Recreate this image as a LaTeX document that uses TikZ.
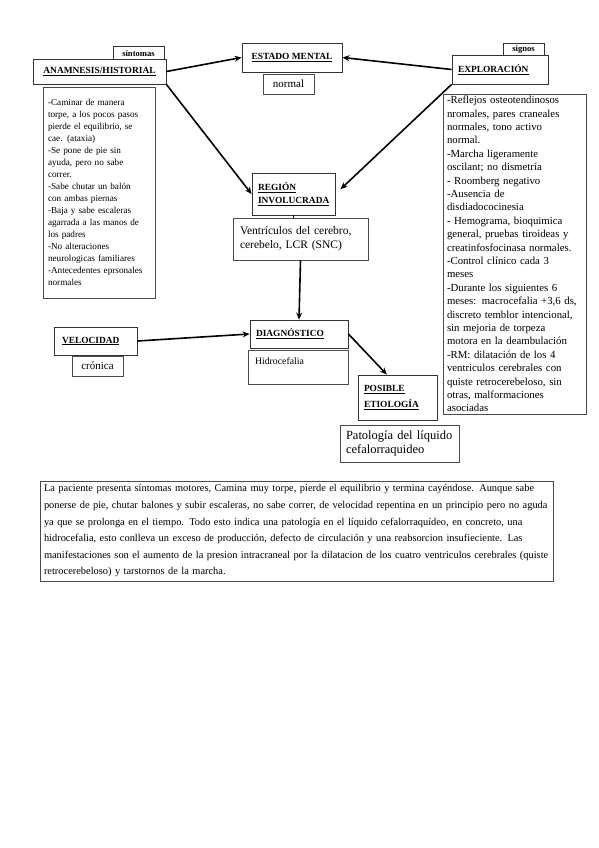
\documentclass[tikz,border=0pt]{standalone}
\usepackage{fontspec}
\setmainfont{Liberation Serif}
\usepackage{tikz}
\usetikzlibrary{arrows.meta,calc}

\begin{document}
\begin{tikzpicture}[
  x=1pt, y=-1pt,
  % heading boxes: bold, underlined title in a framed box
  head/.style={draw=black!80,fill=white,line width=0.9pt,inner sep=2pt,
               font=\fontsize{9.4}{11}\selectfont\bfseries,align=left},
  % small tag sitting behind a heading
  tag/.style={draw=black!80,fill=white,line width=0.8pt,inner sep=1pt,
              font=\fontsize{8.6}{9}\selectfont\bfseries},
  % plain text boxes under the headings
  txt/.style={draw=black!70,fill=white,line width=0.7pt,inner sep=6pt,
              font=\fontsize{9.8}{14}\selectfont,align=left},
  link/.style={line width=1.6pt,-{Stealth[length=7pt,width=6pt]}},
]
\useasboundingbox (0,0) rectangle (599,848);

%--- anamnesis, on the left ----------------------------------------------------
\node[tag,minimum width=51pt,minimum height=15pt] (sint) at (138.5,54) {síntomas};
\node[head,minimum width=133pt,minimum height=25pt] (anam) at (99.5,71.5)
  {\underline{ANAMNESIS/HISTORIAL}};
\node[txt,font=\fontsize{9.2}{12}\selectfont,text width=102pt,minimum height=211pt,
      inner xsep=5pt,inner ysep=0pt] (anamtxt) at (99,192.5)
  {-Caminar de manera\\
   torpe, a los pocos pasos\\
   pierde el equilibrio, se\\
   cae. (ataxia)\\
   -Se pone de pie sin\\
   ayuda, pero no sabe\\
   correr.\\
   -Sabe chutar un balón\\
   con ambas piernas\\
   -Baja y sabe escaleras\\
   agarrada a las manos de\\
   los padres\\
   -No alteraciones\\
   neurologicas familiares\\
   -Antecedentes eprsonales\\
   normales};

%--- estado mental, top centre -------------------------------------------------
\node[head,minimum width=100pt,minimum height=29pt] (estado) at (292,57.5)
  {\underline{ESTADO MENTAL}};
\node[txt,font=\fontsize{11}{13}\selectfont,inner sep=2pt,minimum width=51pt,
      minimum height=20pt] (normal) at (288.5,84) {normal};

%--- exploracion, on the right -------------------------------------------------
\node[tag,minimum width=41pt,minimum height=13pt] (signos) at (523.5,49.5) {signos};
\node[head,minimum width=96pt,minimum height=29pt,text width=84pt,inner xsep=6pt] (explo) at (500,69.5)
  {\underline{EXPLORACIÓN}};
\node[txt,font=\fontsize{10.8}{13.4}\selectfont,text width=135pt,minimum height=320pt,
      inner xsep=4pt,inner ysep=0pt] (explotxt) at (514.5,254)
  {-Reflejos osteotendinosos\\
   nromales, pares craneales\\
   normales, tono activo\\
   normal.\\
   -Marcha ligeramente\\
   oscilant; no dismetría\\
   - Roomberg negativo\\
   -Ausencia de\\
   disdiadococinesia\\
   - Hemograma, bioquimica\\
   general, pruebas tiroideas y\\
   creatinfosfocinasa normales.\\
   -Control clínico cada 3\\
   meses\\
   -Durante los siguientes 6\\
   meses: macrocefalia +3,6 ds,\\
   discreto temblor intencional,\\
   sin mejoria de torpeza\\
   motora en la deambulación\\
   -RM: dilatación de los 4\\
   ventriculos cerebrales con\\
   quiste retrocerebeloso, sin\\
   otras, malformaciones\\
   asociadas};

%--- region involucrada --------------------------------------------------------
\node[head,minimum width=83pt,minimum height=42pt,text width=71pt,inner sep=6pt,
      font=\fontsize{9.4}{13}\selectfont\bfseries] (region) at (293.5,194)
  {\underline{REGIÓN}\\\underline{INVOLUCRADA}};
\node[txt,font=\fontsize{11.5}{14}\selectfont,text width=121pt,minimum height=42pt,
      inner xsep=7pt,inner ysep=4pt] (ventr) at (300.5,239)
  {Ventrículos del cerebro,\\cerebelo, LCR (SNC)};

%--- diagnostico and velocidad -------------------------------------------------
\node[head,minimum width=98pt,minimum height=28pt,text width=86pt,inner sep=6pt] (diag) at (299,334)
  {\underline{DIAGNÓSTICO}};
\node[txt,text width=86pt,minimum height=31pt,inner sep=7pt,text depth=13pt] (hidro) at (298,367.5)
  {Hidrocefalia};
\node[head,minimum width=83pt,minimum height=28pt,text width=67pt,inner xsep=8pt] (veloc) at (95.5,341)
  {\underline{VELOCIDAD}};
\node[txt,font=\fontsize{11}{13}\selectfont,inner sep=2pt,minimum width=51pt,
      minimum height=20pt] (cronica) at (97.5,366) {crónica};

%--- posible etiologia ---------------------------------------------------------
\node[head,minimum width=79pt,minimum height=45pt,text width=67pt,inner sep=6pt,
      font=\fontsize{9.4}{16}\selectfont\bfseries] (posible) at (397.5,397.5)
  {\underline{POSIBLE}\\\underline{ETIOLOGÍA}};
\node[txt,font=\fontsize{12.5}{13.5}\selectfont,text width=107pt,minimum height=37pt,
      inner xsep=6pt,inner ysep=4pt] (patol) at (399.5,443.5)
  {Patología del líquido\\cefalorraquideo};

%--- connectors ----------------------------------------------------------------
\draw[link] (anam.east) -- (estado.west);
\draw[link] (explo.west) -- (estado.east);
\draw[link] (anam.south east) -- (region.west);
\draw[link,shorten >=7pt] (explo.south west) -- (region.east);
\draw[line width=1pt] (region.south) -- (region.south |- ventr.north);
\draw[link] (ventr.south) -- (diag.north);
\draw[link] (veloc.east) -- (diag.west);
\draw[link] (diag.east) -- (posible.115);

%--- summary at the bottom -----------------------------------------------------
\node[txt,font=\fontsize{10.4}{16.6}\selectfont,text width=505pt,minimum height=100pt,
      inner xsep=4pt,inner ysep=3pt] (resumen) at (296.5,531)
  {La paciente presenta síntomas motores, Camina muy torpe, pierde el equilibrio y termina cayéndose. Aunque sabe\\
   ponerse de pie, chutar balones y subir escaleras, no sabe correr, de velocidad repentina en un principio pero no aguda\\
   ya que se prolonga en el tiempo. Todo esto indica una patología en el líquido cefalorraquídeo, en concreto, una\\
   hidrocefalia, esto conlleva un exceso de producción, defecto de circulación y una reabsorcion insufieciente. Las\\
   manifestaciones son el aumento de la presion intracraneal por la dilatacion de los cuatro ventriculos cerebrales (quiste\\
   retrocerebeloso) y tarstornos de la marcha.};
\end{tikzpicture}
\end{document}
